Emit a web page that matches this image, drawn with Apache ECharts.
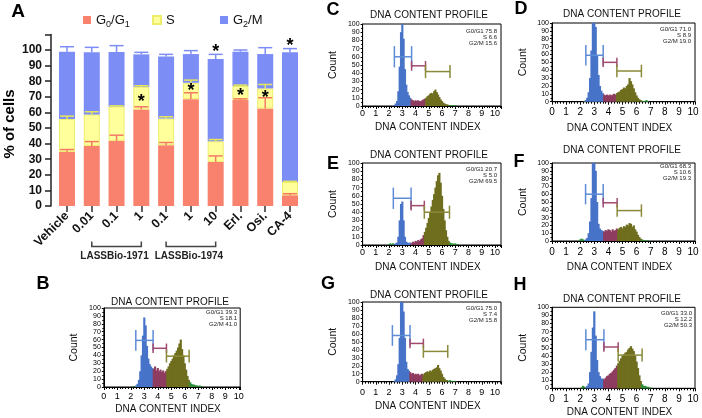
<!DOCTYPE html>
<html><head><meta charset="utf-8">
<script src="https://cdn.jsdelivr.net/npm/echarts@6/dist/echarts.min.js"></script>
<style>html,body{margin:0;padding:0;background:#fff}#c{width:702px;height:418px}</style>
</head><body><div id="c"></div>
<script>
// ---------- Panel A data ----------
const categories = ['Vehicle','0.01','0.1','1','0.1','1','10','Erl.','Osi.','CA-4'];
const g0g1 = [34.7,38.5,41.8,61.9,39.0,68.5,28.3,67.9,62.5,6.9];
const sPhase = [21.0,20.2,22.0,14.5,17.1,10.5,13.2,9.0,12.9,8.5];
const g2m = [43.2,39.8,34.9,20.8,39.8,18.4,52.7,22.0,22.0,83.1];
const g0g1Err = [1.5,2.8,3.6,1.7,1.7,4.1,3.8,0.8,6.9,1.0];
const sErr = [1.9,1.7,0.4,0.7,1.1,1.7,1.1,0.6,2.5,0.4];
const g2mErr = [3.2,3.2,4.1,1.3,1.3,2.2,3.0,1.1,4.1,2.4];
const starCats = [3,5,6,7,8,9];
const starValues = [69.4,76.4,101,72.8,71.5,105.4];
const groupLabels = ['LASSBio-1971','LASSBio-1974'];
const groupRanges = [[1,3],[4,6]];

// ---------- Histogram data (counts per 0.1 bin starting at 2.0) ----------
const binStart = 2.0, binWidth = 0.1;
const histB = [0,0,1,1,2,4,9,20,40,65, 88,78,52,36,29,26,24,23,26,21, 24,20,22,19,21,18,20,23,26,30, 33,36,40,43,46,50,55,60,48,40, 30,22,14,9,6,4,3,3,2,2, 1,2,1,1,0];
const histC = [0,0,0,0,1,3,6,18,48,90, 115,82,45,26,17,13,10,8,7,6, 7,6,7,6,6,7,8,9,10,12, 13,15,16,15,18,20,17,14,11,8, 6,4,3,2,2,1,1,1,1,0, 1,0,0,0,0];
const histD = [0,0,0,1,2,5,12,30,65,105, 118,95,58,34,20,14,11,9,8,9, 8,9,8,9,10,9,11,12,13,15, 16,18,17,20,22,30,26,22,17,12, 8,5,3,2,1,1,1,2,1,0, 0,0,0,0,0];
const histE = [1,2,1,2,1,2,3,10,30,50, 53,30,10,4,3,2,3,2,4,3, 5,4,6,5,7,8,12,16,21,27, 33,40,47,55,62,70,78,85,88,76, 60,44,30,18,10,5,3,2,2,1, 2,1,1,0,0];
const histF = [2,3,2,1,2,4,10,25,55,100, 115,90,50,22,16,14,13,12,14,13, 15,14,12,15,13,14,16,15,17,18, 16,19,18,21,20,23,22,18,20,15, 12,8,5,3,2,1,1,0,1,0, 0,0,0,0,0];
const histG = [0,0,0,0,1,3,8,22,55,100, 118,88,55,25,16,14,12,10,11,9, 10,9,10,8,9,10,9,11,12,13, 12,14,13,15,16,17,18,21,17,14, 10,6,4,2,2,1,2,1,1,0, 1,0,0,0,0];
const histH = [0,1,3,2,1,3,6,20,45,75, 95,65,35,20,15,12,12,11,13,15, 16,18,19,21,23,25,28,31,34,37, 40,42,44,45,48,50,52,49,46,40, 33,25,16,9,5,3,3,2,2,1, 1,0,0,0,0];

const statsB = [39.3,18.1,41.0];
const statsC = [75.8,6.6,15.6];
const statsD = [71.0,8.9,19.0];
const statsE = [20.7,5.0,69.5];
const statsF = [68.3,10.6,19.3];
const statsG = [75.0,7.4,15.8];
const statsH = [33.0,12.2,50.3];

// gates: [start, end, level]
const gatesB = [[2.37,3.65,59],[3.65,4.64,49],[4.64,6.32,39]];
const gatesC = [[2.4,3.7,60],[3.7,4.75,49],[4.75,6.6,42]];
const gatesD = [[2.4,3.63,59],[3.63,4.6,50],[4.6,6.34,39]];
const gatesE = [[2.32,3.66,57],[3.66,4.66,48],[4.66,6.56,40]];
const gatesF = [[2.38,3.63,60],[3.63,4.62,49],[4.62,6.34,39]];
const gatesG = [[2.25,3.58,58],[3.58,4.59,48],[4.59,6.43,38]];
const gatesH = [[2.4,3.68,60],[3.68,4.69,51],[4.69,6.39,41]];
const gateCapHalf = [13,6,8];

// ---------- Layout ----------
const FONT = 'Liberation Sans, Arial, sans-serif';
const colG0 = '#F9826F', colS = '#FFFF9C', colG2 = '#7C8DF6';
const histCols = ['#4773C8','#8E3C5F','#6E6E1E','#2F8F3A'];
const gateCols = ['#5E8BD6','#A24A6E','#8A8A3A'];

const panels = [
 {L:'B',hist:histB,stats:statsB,gates:gatesB,left:103.8,top:308,w:136.4,h:79,xmax:10.1,tx:170,ty:302,lm:5,fs:9,ny:409,cx:74,let:[43,284],sx:237,sy:312.7},
 {L:'C',hist:histC,stats:statsC,gates:gatesC,left:362.6,top:24,w:138.4,h:82,xmax:10.45,tx:429,ty:15,lm:3,fs:9,ny:127,cx:333,let:[333,10],sx:497,sy:31.7},
 {L:'D',hist:histD,stats:statsD,gates:gatesD,left:552,top:23,w:143,h:78.7,xmax:10.14,tx:622,ty:14,lm:6,fs:10,ny:128,cx:523,let:[521,9],sx:691,sy:29.3},
 {L:'E',hist:histE,stats:statsE,gates:gatesE,left:362.6,top:163,w:138.4,h:82,xmax:10.45,tx:429,ty:155,lm:3.5,fs:9,ny:267,cx:333,let:[333,164],sx:497,sy:169.3},
 {L:'F',hist:histF,stats:statsF,gates:gatesF,left:552,top:163,w:143,h:78,xmax:10.14,tx:622,ty:150.7,lm:6,fs:10,ny:267,cx:523,let:[519,162],sx:691,sy:166.7},
 {L:'G',hist:histG,stats:statsG,gates:gatesG,left:362.6,top:302,w:138.4,h:79.7,xmax:10.45,tx:429,ty:295,lm:6,fs:9,ny:406,cx:333,let:[328,284],sx:497,sy:308.3},
 {L:'H',hist:histH,stats:statsH,gates:gatesH,left:552,top:307.3,w:143,h:81,xmax:10.14,tx:622,ty:299,lm:5.7,fs:10,ny:412,cx:523,let:[520,285],sx:692,sy:313.3}
];

const chart = echarts.init(document.getElementById('c'), null, {renderer:'canvas', devicePixelRatio:1});

const grids = [{left:54.6, top:34.4, width:247.8, height:171.6}];
const xAxes = [{
  type:'category', gridIndex:0, data:categories,
  axisLine:{show:false},
  axisTick:{show:true, alignWithLabel:true, length:6, lineStyle:{color:'#333', width:1.5}},
  axisLabel:{rotate:45, interval:0, fontSize:12.5, fontWeight:'bold', color:'#111', margin:8, fontFamily:FONT}
}];
const yAxes = [{
  type:'value', gridIndex:0, min:0, max:110, interval:10, offset:3.6,
  axisLine:{show:true, lineStyle:{color:'#222', width:1.5}},
  axisTick:{show:true, length:6, lineStyle:{color:'#222', width:1.5}},
  splitLine:{show:false},
  axisLabel:{fontSize:12, fontWeight:'bold', color:'#111', margin:9, fontFamily:FONT, formatter:v=> v>100?'':String(v)}
}];

const series = [
  {name:'G0/G1', type:'bar', stack:'a', xAxisIndex:0, yAxisIndex:0, barWidth:16, data:g0g1, itemStyle:{color:colG0}},
  {name:'S', type:'bar', stack:'a', xAxisIndex:0, yAxisIndex:0, barWidth:16, data:sPhase, itemStyle:{color:colS, borderColor:'#EDED6A', borderWidth:1}},
  {name:'G2/M', type:'bar', stack:'a', xAxisIndex:0, yAxisIndex:0, barWidth:16, data:g2m, itemStyle:{color:colG2}}
];

// error bars
const errData = [];
const errCols = ['#F57A66','#E6E65C','#7C8DF6'];
categories.forEach((c,i)=>{
  const t0 = g0g1[i], t1 = g0g1[i]+sPhase[i], t2 = g0g1[i]+sPhase[i]+g2m[i];
  errData.push([i,t0,g0g1Err[i],0],[i,t1,sErr[i],1],[i,t2,g2mErr[i],2]);
});
series.push({
  type:'custom', xAxisIndex:0, yAxisIndex:0, z:5, silent:true, data:errData,
  renderItem:(params, api)=>{
    const i=api.value(0), b=api.value(1), e=api.value(2), k=api.value(3);
    const p0=api.coord([i,b]), p1=api.coord([i,b+e]);
    const col=errCols[k];
    return {type:'group', children:[
      {type:'line', shape:{x1:p0[0],y1:p0[1],x2:p1[0],y2:p1[1]}, style:{stroke:col,lineWidth:1.5}},
      {type:'line', shape:{x1:p1[0]-7,y1:p1[1],x2:p1[0]+7,y2:p1[1]}, style:{stroke:col,lineWidth:1.5}}
    ]};
  }
});
// stars
series.push({
  type:'custom', xAxisIndex:0, yAxisIndex:0, z:6, silent:true,
  data: starCats.map((c,i)=>[c, starValues[i]]),
  renderItem:(params, api)=>{
    const p=api.coord([api.value(0), api.value(1)]);
    return {type:'text', x:p[0], y:p[1]+4, style:{text:'*', fill:'#000', font:'bold 18px '+FONT, align:'center', verticalAlign:'middle'}};
  }
});

panels.forEach((P, k)=>{
  const gi = k+1;
  grids.push({left:P.left, top:P.top, width:P.w, height:P.h, show:true, borderColor:'#000', borderWidth:1});
  xAxes.push({
    type:'value', gridIndex:gi, min:0, max:P.xmax, interval:1,
    axisLine:{show:true, onZero:false, lineStyle:{color:'#000', width:1}},
    axisTick:{show:true, length:3, lineStyle:{color:'#000'}},
    minorTick:{show:true, splitNumber:5, length:2, lineStyle:{color:'#000'}},
    splitLine:{show:false}, minorSplitLine:{show:false},
    axisLabel:{fontSize:P.fs, color:'#000', margin:P.lm, fontFamily:FONT, formatter:v=> Number.isInteger(v)?String(v):''}
  });
  yAxes.push({
    type:'value', gridIndex:gi, min:0, max:100, interval:10,
    axisLine:{show:true, lineStyle:{color:'#000', width:1}},
    axisTick:{show:true, length:2, lineStyle:{color:'#000'}},
    minorTick:{show:true, splitNumber:2, length:1.5, lineStyle:{color:'#000'}},
    splitLine:{show:false},
    axisLabel:{fontSize:7, color:'#000', margin:3, fontFamily:FONT}
  });
  const gates = P.gates;
  series.push({
    type:'custom', xAxisIndex:gi, yAxisIndex:gi, silent:true,
    data: P.hist.map((c,i)=>[+(binStart+i*binWidth).toFixed(2), c]),
    renderItem:(params, api)=>{
      const x=api.value(0), c=api.value(1);
      if (!c) return null;
      const p0=api.coord([x-binWidth/2,0]), p1=api.coord([x+binWidth/2,c]);
      const cs=params.coordSys;
      const top=Math.max(p1[1], cs.y);
      let col=histCols[3];
      for (let g=0; g<3; g++) if (x>=gates[g][0] && x<gates[g][1]) col=histCols[g];
      return {type:'rect', shape:{x:p0[0]-0.4, y:top, width:p1[0]-p0[0]+0.8, height:p0[1]-top}, style:{fill:col}};
    }
  });
  series.push({
    type:'custom', xAxisIndex:gi, yAxisIndex:gi, silent:true, z:4,
    data: gates.map((g,i)=>[g[0], g[1], g[2], i]),
    renderItem:(params, api)=>{
      const x1=api.value(0), x2=api.value(1), y=api.value(2), i=api.value(3);
      const a=api.coord([x1,y]), b=api.coord([x2,y]);
      const hh=api.size([0,gateCapHalf[i]])[1];
      const col=gateCols[i];
      const st={stroke:col, lineWidth:1.5};
      return {type:'group', children:[
        {type:'line', shape:{x1:a[0],y1:a[1],x2:b[0],y2:b[1]}, style:st},
        {type:'line', shape:{x1:a[0],y1:a[1]-hh,x2:a[0],y2:a[1]+hh}, style:st},
        {type:'line', shape:{x1:b[0],y1:b[1]-hh,x2:b[0],y2:b[1]+hh}, style:st}
      ]};
    }
  });
});

const rich = {
  b:{fontSize:13, fontFamily:FONT, color:'#111', lineHeight:18},
  s:{fontSize:9, fontFamily:FONT, color:'#111', lineHeight:18, verticalAlign:'bottom'}
};
const legendFmt = n => n==='G0/G1' ? '{b|G}{s|0}{b|/G}{s|1}' : (n==='G2/M' ? '{b|G}{s|2}{b|/M}' : '{b|S}');
const legends = [['G0/G1',83],['S',152],['G2/M',220]].map(([n,l])=>({
  data:[n], left:l, top:13.5, padding:0, itemWidth:8, itemHeight:8, icon:'rect', itemGap:0,
  formatter:legendFmt, textStyle:{rich:rich, fontSize:13, fontFamily:FONT}, selectedMode:false
}));

chart.setOption({
  animation:false,
  textStyle:{fontFamily:FONT},
  legend:legends,
  grid:grids, xAxis:xAxes, yAxis:yAxes, series:series
});

// ---------- annotations ----------
const gr = [];
const txt = (x,y,text,font,opts={}) => gr.push(Object.assign({type:'text', x:x, y:y, silent:true,
  style:{text:text, font:font, fill:opts.fill||'#000', align:opts.align||'center', verticalAlign:'middle'}}, opts.rotation!==undefined?{rotation:opts.rotation}:{}));

txt(18,12,'A','bold 19px '+FONT);
txt(10,124,'% of cells','bold 15px '+FONT,{rotation:Math.PI/2});
groupRanges.forEach((r,i)=>{
  const xa = chart.convertToPixel({xAxisIndex:0}, r[0]);
  const xb = chart.convertToPixel({xAxisIndex:0}, r[1]);
  gr.push({type:'polyline', silent:true, shape:{points:[[xa,241.5],[xa,246.5],[xb,246.5],[xb,241.5]]}, style:{stroke:'#444', lineWidth:1.5, fill:null}});
  txt((xa+xb)/2 - 2, 256, groupLabels[i], 'bold 10px '+FONT, {fill:'#222'});
});

panels.forEach(P=>{
  txt(P.let[0], P.let[1], P.L, 'bold 18px '+FONT);
  txt(P.tx, P.ty, 'DNA CONTENT PROFILE', '10px '+FONT, {fill:'#111'});
  txt(P.left + P.w/2 - 4, P.ny, 'DNA CONTENT INDEX', '10px '+FONT, {fill:'#111'});
  txt(P.cx, P.top + P.h/2, 'Count', '10.5px '+FONT, {rotation:Math.PI/2, fill:'#111'});
  const lines = ['G0/G1 '+P.stats[0].toFixed(1), 'S '+P.stats[1].toFixed(1), 'G2/M '+P.stats[2].toFixed(1)];
  lines.forEach((t,j)=> txt(P.sx, P.sy + j*6, t, '6px '+FONT, {align:'right', fill:'#222'}));
});

chart.setOption({graphic:gr});
</script>
</body></html>
